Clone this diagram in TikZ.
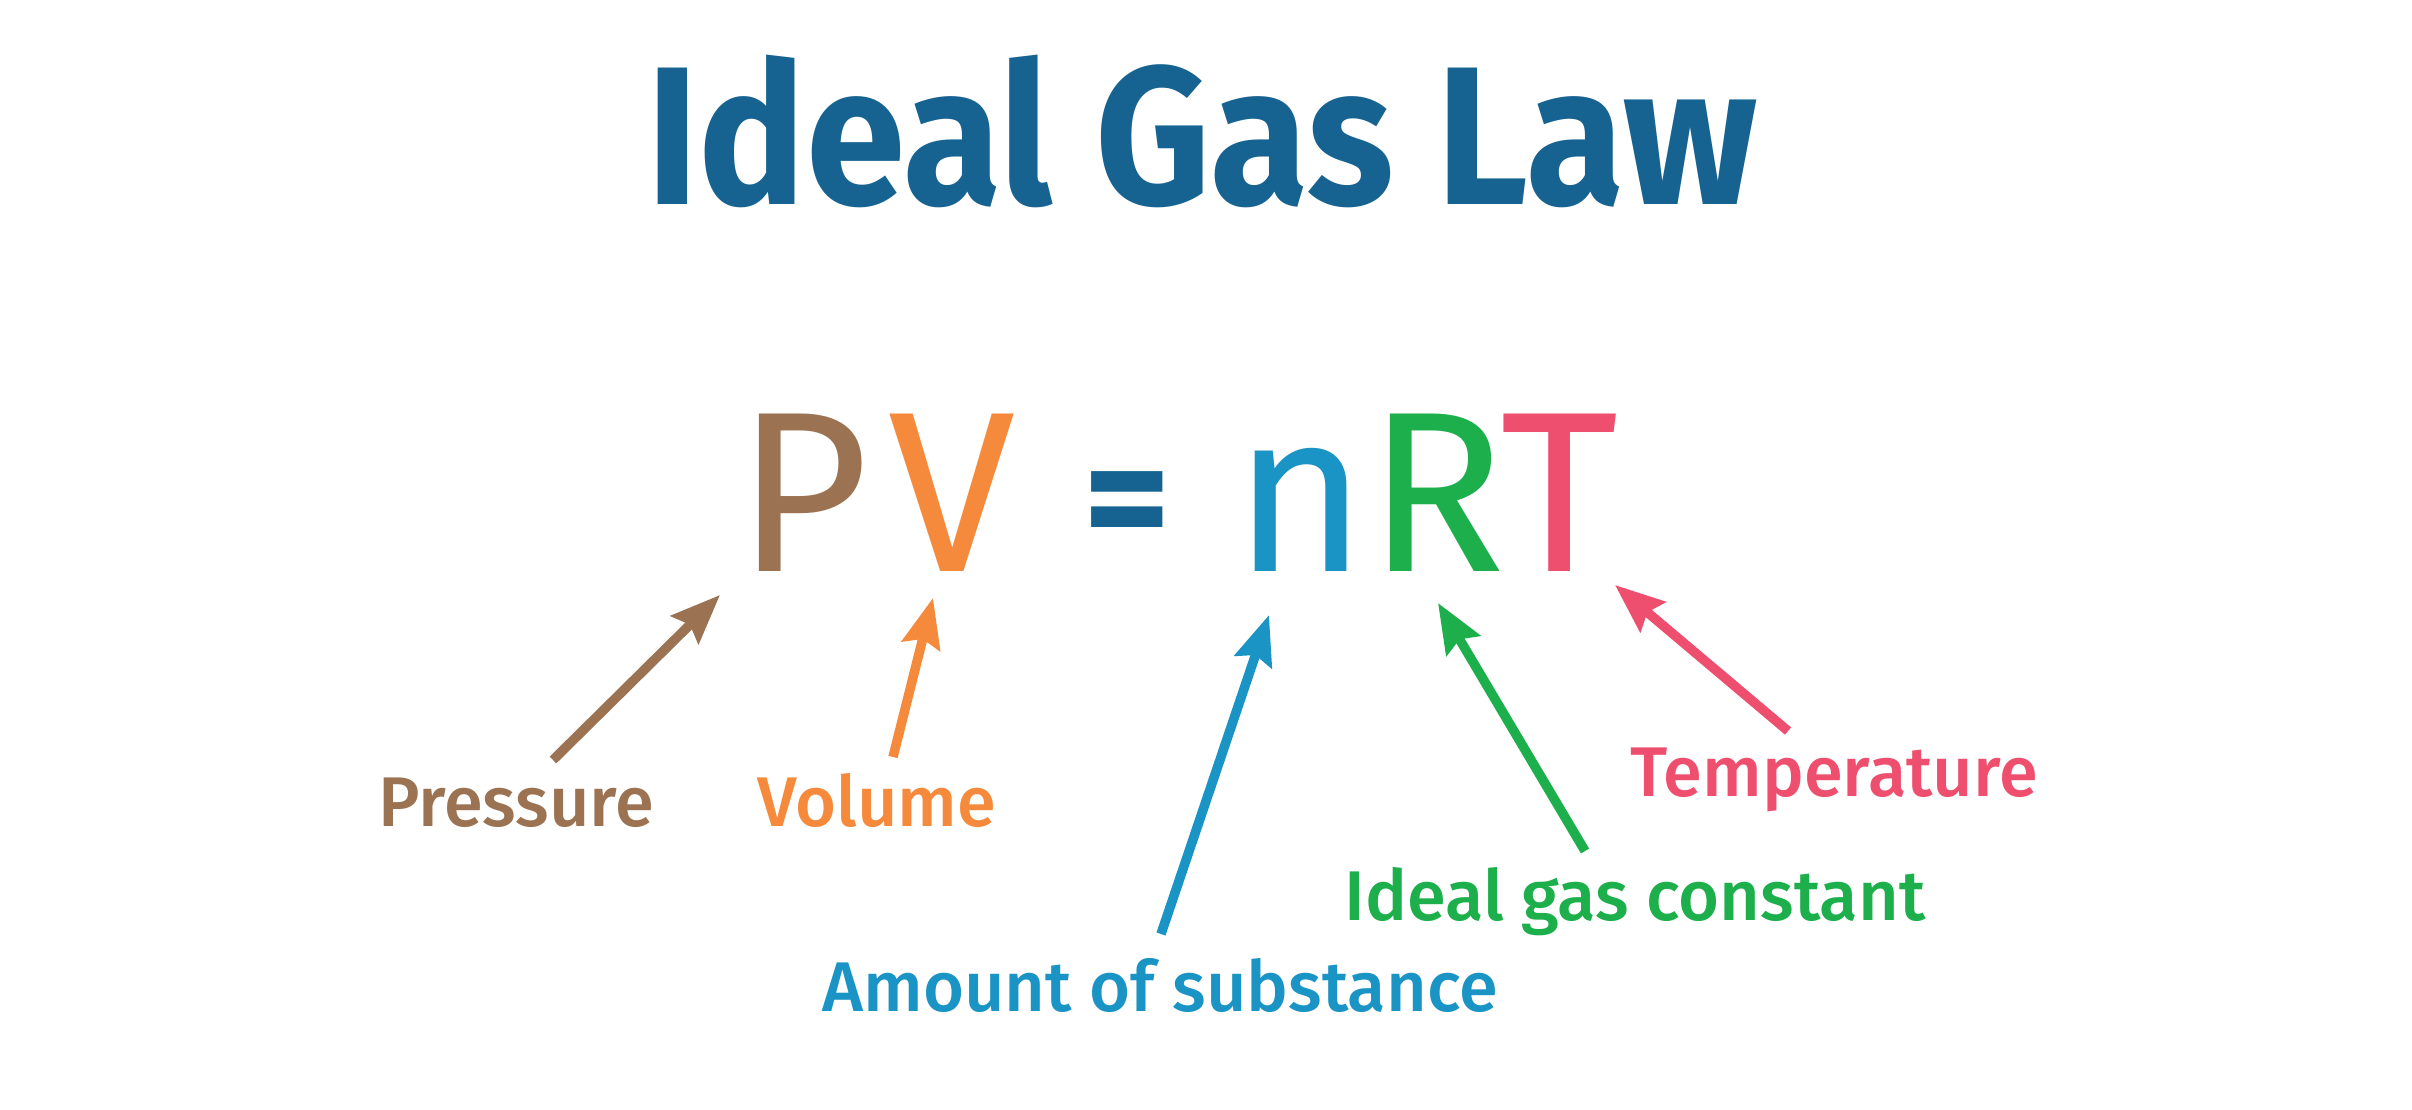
\documentclass[tikz,border=0pt]{standalone}
\usepackage{fontspec}
\setmainfont{Fira Sans}
\newfontfamily\titlefont[FakeStretch=0.91]{Fira Sans}
\newfontfamily\lblfont{Fira Sans Medium}
\usetikzlibrary{arrows.meta,positioning}
\definecolor{titleblue}{RGB}{22,99,145}
\definecolor{pbrown}{RGB}{155,115,82}
\definecolor{vorange}{RGB}{245,138,60}
\definecolor{nblue}{RGB}{26,148,196}
\definecolor{rgreen}{RGB}{29,175,75}
\definecolor{tpink}{RGB}{238,79,110}
\begin{document}
\begin{tikzpicture}[x=0.01cm,y=-0.01cm,
every node/.style={inner sep=0pt,anchor=base},
letter/.style={font=\fontsize{65}{70}\selectfont},
lbl/.style={font=\lblfont\fontsize{20}{24}\selectfont},
arr/.style={line width=2.7pt,-{Stealth[length=14pt,width=11pt,inset=2pt]}}]
\useasboundingbox[fill=white] (0,0) rectangle (2412,1110);
\node[text=titleblue,font=\titlefont\fontsize{56}{60}\selectfont\bfseries] (title) at (1202,205) {Ideal Gas Law};
% the equation
\node[letter,text=pbrown] (P) at (803,572) {P};
\node[letter,text=vorange] (V) at (952,572) {V};
\node[text=titleblue,font=\fontsize{48}{52}\selectfont\bfseries] (eq) at (1127,556) {=};
\node[letter,text=nblue] (n) at (1300,572) {n};
\node[letter,text=rgreen] (R) at (1437,572) {R};
\node[letter,text=tpink] (T) at (1560,572) {T};
% labels
\node[lbl,text=pbrown] (pressure) at (516,826) {Pressure};
\node[lbl,text=vorange] (volume) at (877,826) {Volume};
\node[lbl,text=nblue] (amount) at (1160,1011) {Amount of substance};
\node[lbl,text=rgreen] (gasconst) at (1635,920) {Ideal gas constant};
\node[lbl,text=tpink] (temp) at (1834,797) {Temperature};
\draw[arr,pbrown] ([shift={(37,-66)}]pressure.base)--([shift={(-83,23)}]P.base);
\draw[arr,vorange] ([shift={(16,-69)}]volume.base)--([shift={(-19,26)}]V.base);
\draw[arr,nblue] ([shift={(1,-77)}]amount.base)--([shift={(-31,43)}]n.base);
\draw[arr,rgreen] ([shift={(-50,-69)}]gasconst.base)--([shift={(1,31)}]R.base);
\draw[arr,tpink] ([shift={(-46,-66)}]temp.base)--([shift={(55,13)}]T.base);
\end{tikzpicture}
\end{document}
